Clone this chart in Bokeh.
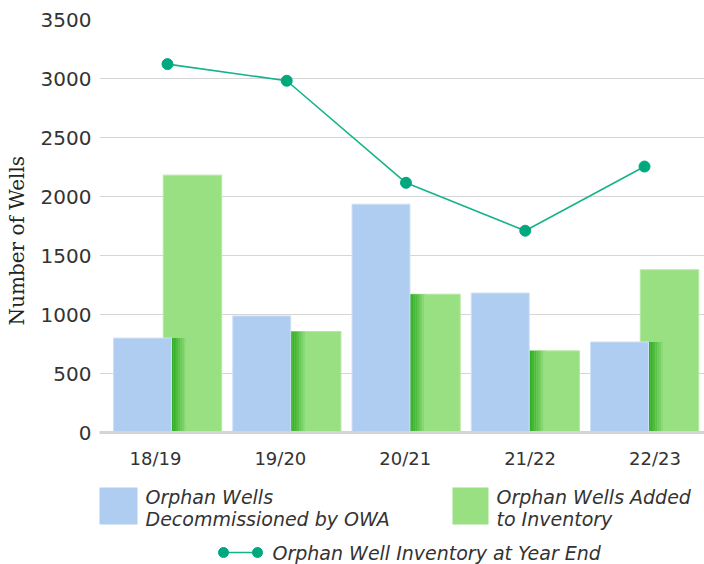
import math
from bokeh.plotting import figure
from bokeh.layouts import column, row
from bokeh.models import FixedTicker, ColumnDataSource
from bokeh.core.properties import value
from bokeh.embed import file_html
from bokeh.resources import INLINE

# ---- data ----
years = ["18/19", "19/20", "20/21", "21/22", "22/23"]
decommissioned = [800, 988, 1935, 1182, 767]
added = [2181, 856, 1172, 692, 1379]
inventory = [3122, 2981, 2116, 1710, 2254]
y_ticks = [0, 500, 1000, 1500, 2000, 2500, 3000, 3500]

BLUE = "#aecdf0"
GREEN = "#99e082"
DARK_GREEN = (52, 174, 38)
LIGHT_GREEN = (153, 224, 130)
TEAL = "#14b38a"
TXT = "#333333"
GRID = "#d6d6d6"

idx = list(range(len(years)))

MAIN_H = 478

# ---- y-axis title panel ----
yl = figure(width=30, height=MAIN_H, x_range=(0, 30), y_range=(0, MAIN_H),
            output_backend="svg", toolbar_location=None, min_border=0)
yl.axis.visible = False
yl.grid.visible = False
yl.outline_line_color = None
yl.text(x=[16], y=[222], text=["Number of Wells"], angle=math.pi / 2,
        text_font=value("DejaVu Serif"), text_font_size="20px", text_color="#222222",
        text_align="center", text_baseline="middle")

# ---- main chart ----
p = figure(width=674, height=MAIN_H, x_range=(-0.570, 4.503), y_range=(0, 3500),
           output_backend="svg", toolbar_location=None,
           min_border_left=69, min_border_right=0, min_border_top=19, min_border_bottom=46)
p.outline_line_color = None
p.background_fill_color = "white"
p.border_fill_color = "white"

off = 0.2096
bw = 0.486
gw = 0.49

# green bars (behind)
p.vbar(x=[i + off for i in idx], top=added, width=gw, bottom=0,
       fill_color=GREEN, line_color="#b4e9a3", line_width=1)

# shadow gradient on the green bars next to the blue bars
n_steps = 9
step_w = 16.0 / 119.25 / n_steps
for k in range(n_steps):
    t = (k / (n_steps - 1)) ** 1.3
    r = int(DARK_GREEN[0] + (LIGHT_GREEN[0] - DARK_GREEN[0]) * t)
    g = int(DARK_GREEN[1] + (LIGHT_GREEN[1] - DARK_GREEN[1]) * t)
    b = int(DARK_GREEN[2] + (LIGHT_GREEN[2] - DARK_GREEN[2]) * t)
    col = "#%02x%02x%02x" % (r, g, b)
    left_edge = [i - off + bw / 2 + k * step_w for i in idx]
    p.quad(left=left_edge, right=[x + step_w * 1.05 for x in left_edge],
           bottom=0, top=[min(a, d) for a, d in zip(added, decommissioned)],
           fill_color=col, line_color=None)

# blue bars
p.vbar(x=[i - off for i in idx], top=decommissioned, width=bw, bottom=0,
       fill_color=BLUE, line_color="#cfe0f6", line_width=1)

# inventory line
p.line(idx, inventory, line_color=TEAL, line_width=1.6)
p.scatter(idx, inventory, size=11, fill_color="#00a87e", line_color="#00a87e")

# axes
p.xgrid.grid_line_color = None
p.ygrid.grid_line_color = GRID
p.ygrid.grid_line_width = 1.2
p.ygrid.ticker = FixedTicker(ticks=y_ticks)

p.yaxis.ticker = FixedTicker(ticks=y_ticks)
p.yaxis.axis_line_color = None
p.yaxis.major_tick_line_color = None
p.yaxis.minor_tick_line_color = None
p.yaxis.major_tick_out = 0
p.yaxis.minor_tick_out = 0
p.yaxis.major_label_standoff = 8
p.yaxis.major_label_text_font = "DejaVu Sans"
p.yaxis.major_label_text_font_size = "20px"
p.yaxis.major_label_text_color = TXT

label_pos = [-0.1006 + i * 1.047 for i in idx]
p.xaxis.ticker = FixedTicker(ticks=label_pos)
p.xaxis.major_label_overrides = {pos: lab for pos, lab in zip(label_pos, years)}
p.xaxis.axis_line_color = "#d4d4d4"
p.xaxis.axis_line_width = 3
p.xaxis.major_tick_line_color = None
p.xaxis.minor_tick_line_color = None
p.xaxis.major_tick_out = 0
p.xaxis.minor_tick_out = 0
p.xaxis.major_label_standoff = 15
p.xaxis.major_label_text_font = "DejaVu Sans"
p.xaxis.major_label_text_font_size = "18px"
p.xaxis.major_label_text_color = TXT

# ---- legend ----
LEG_H = 86
lg = figure(width=704, height=LEG_H, x_range=(0, 704), y_range=(0, LEG_H),
            output_backend="svg", toolbar_location=None, min_border=0)
lg.axis.visible = False
lg.grid.visible = False
lg.outline_line_color = None

lg.quad(left=[99], right=[137], bottom=[40], top=[77], fill_color=BLUE, line_color=None)
lg.quad(left=[452], right=[488], bottom=[40], top=[77], fill_color=GREEN, line_color=None)

leg_src = ColumnDataSource(dict(
    x=[145, 145, 496, 496, 272],
    y=[68, 46, 68, 46, 12],
    t=["Orphan Wells", "Decommissioned by OWA", "Orphan Wells Added", "to Inventory",
       "Orphan Well Inventory at Year End"],
))
lg.text(x="x", y="y", text="t", source=leg_src, text_font=value("DejaVu Sans"),
        text_font_style="italic", text_font_size="19px", text_color=TXT,
        text_baseline="alphabetic", text_align="left")

lg.line([223, 257], [12, 12], line_color=TEAL, line_width=1.6)
lg.scatter([223, 257], [12, 12], size=10, fill_color="#00a87e", line_color="#00a87e")

layout = column(row(yl, p), lg)
open("out.html", "w").write(file_html(layout, INLINE))
